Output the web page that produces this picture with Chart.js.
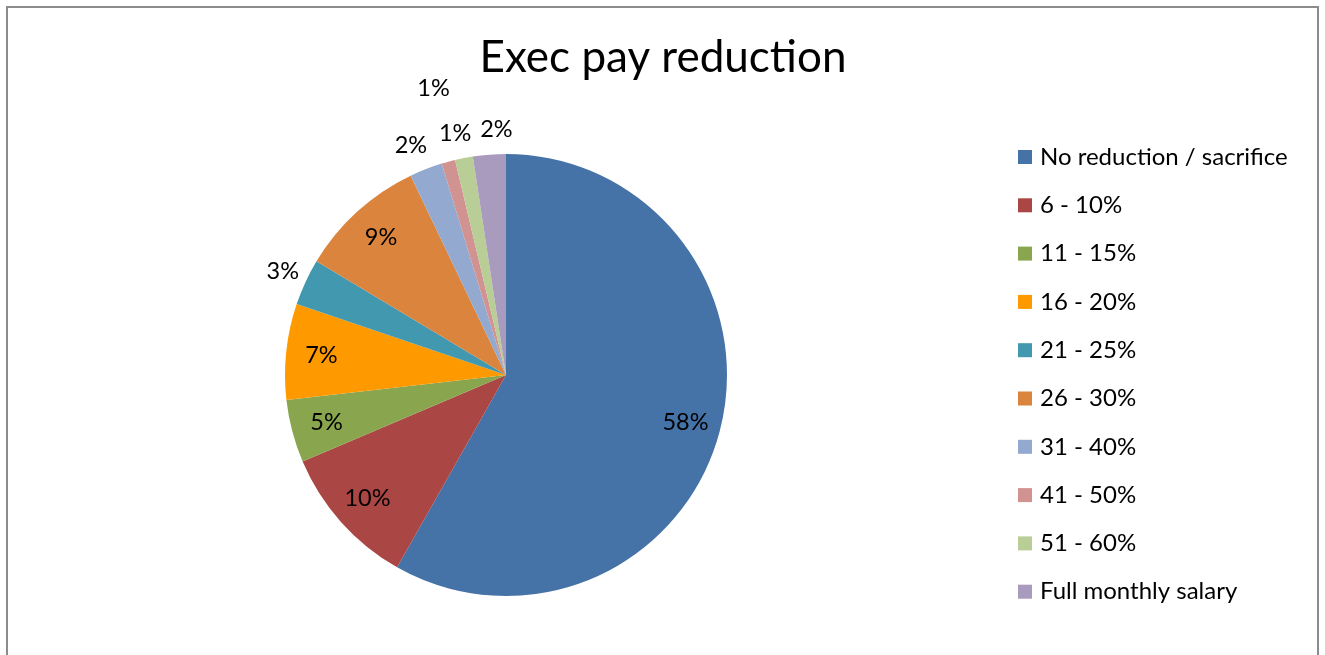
<!DOCTYPE html>
<html>
<head>
<meta charset="utf-8">
<script src="https://cdn.jsdelivr.net/npm/chart.js@4"></script>
<style>
  html, body { margin: 0; padding: 0; background: #ffffff; }
  #wrap { position: relative; width: 1325px; height: 655px; }
  canvas { display: block; }
</style>
</head>
<body>
<div id="wrap"><canvas id="chart" width="1325" height="655"></canvas></div>
<script>
// Share of respondents by executive pay reduction band (percent)
const categories = [
  'No reduction / sacrifice', '6 - 10%', '11 - 15%', '16 - 20%', '21 - 25%',
  '26 - 30%', '31 - 40%', '41 - 50%', '51 - 60%', 'Full monthly salary'
];
const shares = [58.2, 10.4, 4.6, 7.0, 3.4, 9.3, 2.4, 1.0, 1.3, 2.4];
const sliceColors = [
  '#4572A7', '#AA4643', '#89A54E', '#FF9900', '#4198AF',
  '#DB843D', '#93A9CF', '#D19392', '#B9CD96', '#A99BBD'
];
const chartTitle = 'Exec pay reduction';

const FONT = 'Lato, "Open Sans", sans-serif';

// Small horizontal nudges so crowded outside labels do not collide
const outsideNudge = { 6: -6, 7: 5, 8: -4, 9: 9 };

// Frame around the whole chart
const framePlugin = {
  id: 'frame',
  beforeDraw(chart) {
    const ctx = chart.ctx;
    ctx.save();
    ctx.fillStyle = '#ffffff';
    ctx.fillRect(0, 0, chart.width, chart.height);
    ctx.strokeStyle = '#8c8c8c';
    ctx.lineWidth = 2;
    ctx.beginPath();
    ctx.moveTo(7, chart.height + 5);
    ctx.lineTo(7, 7);
    ctx.lineTo(1318, 7);
    ctx.lineTo(1318, chart.height + 5);
    ctx.stroke();
    ctx.restore();
  }
};

// Title centred across the full chart width
const titlePlugin = {
  id: 'wideTitle',
  afterDraw(chart) {
    const ctx = chart.ctx;
    ctx.save();
    ctx.font = '44px ' + FONT;
    ctx.fillStyle = '#000000';
    ctx.textAlign = 'center';
    ctx.textBaseline = 'middle';
    ctx.fillText(chartTitle, 663, 58);
    ctx.restore();
  }
};

// Percentage labels: inside large slices, outside small ones
const sliceLabelPlugin = {
  id: 'sliceLabels',
  afterDatasetsDraw(chart) {
    const ctx = chart.ctx;
    const meta = chart.getDatasetMeta(0);
    const total = shares.reduce((a, b) => a + b, 0);
    ctx.save();
    ctx.font = '23.5px ' + FONT;
    ctx.fillStyle = '#000000';
    ctx.textAlign = 'center';
    ctx.textBaseline = 'middle';
    meta.data.forEach((arc, i) => {
      const p = arc.getProps(['x', 'y', 'startAngle', 'endAngle', 'outerRadius'], true);
      const mid = (p.startAngle + p.endAngle) / 2;
      const pct = shares[i] / total * 100;
      let dist;
      if (pct >= 4) dist = p.outerRadius * 0.84;
      else if (i === 7) dist = p.outerRadius + 76;
      else dist = p.outerRadius + 25;
      let x = p.x + Math.cos(mid) * dist;
      const y = p.y + Math.sin(mid) * dist;
      if (pct < 4 && outsideNudge[i]) x += outsideNudge[i];
      ctx.fillText(Math.round(pct) + '%', x, y);
    });
    ctx.restore();
  }
};

// Legend column on the right
const legendPlugin = {
  id: 'sideLegend',
  afterDraw(chart) {
    const ctx = chart.ctx;
    ctx.save();
    ctx.font = '24px ' + FONT;
    ctx.textAlign = 'left';
    ctx.textBaseline = 'middle';
    const x0 = 1018, y0 = 157, step = 48.3, box = 14;
    categories.forEach((name, i) => {
      const y = y0 + i * step;
      ctx.fillStyle = sliceColors[i];
      ctx.fillRect(x0, y - box / 2, box, box);
      ctx.fillStyle = '#000000';
      ctx.fillText(name, x0 + 22, y);
    });
    ctx.restore();
  }
};

new Chart(document.getElementById('chart'), {
  type: 'pie',
  data: {
    labels: categories,
    datasets: [{
      data: shares,
      backgroundColor: sliceColors,
      borderWidth: 0
    }]
  },
  options: {
    responsive: false,
    animation: false,
    layout: { padding: { top: 154, bottom: 59, left: 285, right: 598 } },
    plugins: {
      legend: { display: false },
      tooltip: { enabled: false },
      title: { display: false }
    }
  },
  plugins: [framePlugin, sliceLabelPlugin, titlePlugin, legendPlugin]
});
</script>
</body>
</html>
